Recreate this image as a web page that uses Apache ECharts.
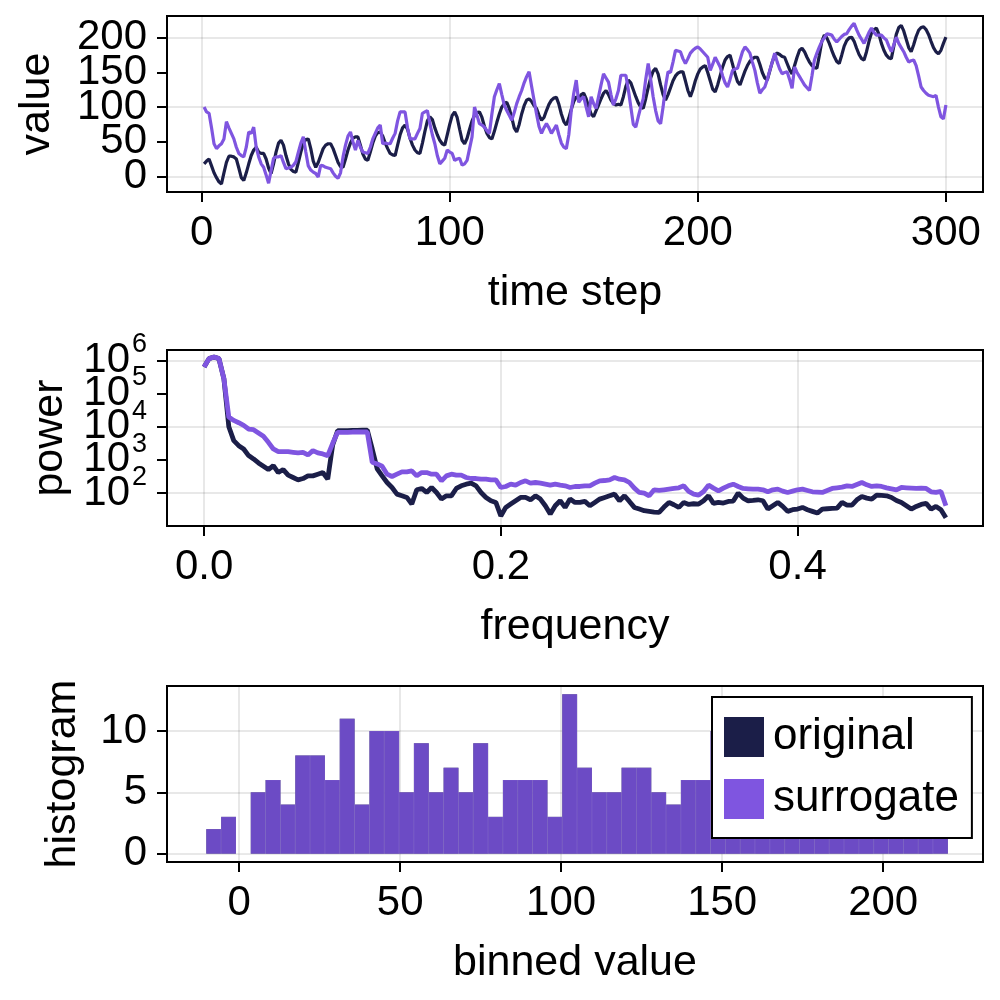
<!DOCTYPE html>
<html>
<head>
<meta charset="utf-8">
<script src="https://cdn.jsdelivr.net/npm/echarts@6/dist/echarts.min.js"></script>
<style>html,body{margin:0;padding:0;background:#fff}#c{width:1000px;height:1000px}</style>
</head>
<body>
<div id="c"></div>
<script>
// ---------- data ----------
const seriesNames = ['original', 'surrogate'];
const originalValues = [
18,22,25,15,5,-2,-8,-11,5,20,
29,29,28,25,12,-2,-6,5,18,30,
38,42,35,33,33,25,12,4,18,35,
48,52,45,30,18,10,7,6,20,35,
48,53,54,40,22,13,20,30,40,45,
47,47,40,30,20,14,13,25,38,48,
55,57,57,45,32,25,23,35,48,58,
63,64,58,48,40,33,31,30,45,60,
70,74,68,55,45,38,34,33,48,65,
80,86,82,70,60,52,47,45,60,75,
88,93,85,68,52,47,55,68,80,88,
92,93,85,72,62,56,54,65,78,90,
100,105,107,98,85,70,64,75,90,102,
110,112,108,102,98,88,81,85,95,104,
110,113,114,104,90,79,74,84,97,108,
115,112,118,120,112,100,90,86,95,103,
112,120,124,118,110,105,103,104,103,115,
130,139,135,125,115,106,100,98,112,128,
142,152,156,148,132,118,110,118,128,138,
145,149,151,151,138,124,115,125,138,148,
155,158,160,150,138,126,122,132,145,158,
168,173,175,162,148,137,132,142,152,160,
166,170,172,172,162,150,142,139,152,165,
175,178,176,173,172,163,154,148,160,172,
182,185,180,172,165,160,157,156,175,195,
204,200,192,182,173,166,163,175,188,196,
200,201,195,185,176,170,168,180,195,207,
212,214,205,192,182,175,171,170,188,205,
215,218,210,198,186,180,190,202,211,215,
216,212,205,195,186,180,177,182,192,201];
const surrogateValues = [
100,93,91,70,47,40,44,47,54,79,
70,62,54,42,33,30,28,42,64,62,
71,42,28,18,13,2,-10,8,26,28,
28,30,20,11,12,13,16,21,35,48,
57,35,15,9,6,4,-1,16,15,13,
12,11,5,0,-3,5,28,45,58,64,
50,38,52,42,35,34,33,42,54,62,
70,74,47,48,47,47,55,62,80,93,
93,93,70,54,54,54,62,69,91,93,
95,76,60,47,30,18,22,26,38,35,
33,23,25,26,16,18,23,40,57,100,
88,76,74,71,66,62,90,115,125,134,
118,103,95,88,81,92,105,115,124,135,
144,151,130,110,90,72,62,70,76,70,
62,68,74,60,48,42,40,60,95,120,
139,107,112,115,100,86,115,105,98,115,
132,148,142,136,118,103,112,124,146,146,
146,125,100,75,71,86,100,112,140,163,
140,115,95,80,76,100,130,151,150,165,
182,181,180,170,163,170,178,182,185,187,
184,180,176,172,153,162,172,165,158,145,
135,129,140,153,155,156,168,180,187,183,
178,165,153,135,120,125,129,140,153,165,
178,165,155,148,150,151,140,127,158,150,
144,138,132,128,124,145,168,178,187,195,
200,206,205,204,198,194,198,202,205,206,
212,217,221,212,204,198,192,200,208,214,
208,204,204,204,200,197,188,180,190,201,
192,186,180,172,165,167,168,160,145,129,
124,120,117,116,115,117,100,86,83,103];

// log10 of spectral power, frequency index k = 0..150 (f = k/300)
const log10PowerOriginal = [
5.80,6.05,6.10,6.05,5.45,4.00,3.58,3.43,3.33,3.13,
3.03,2.91,2.81,2.71,2.83,2.62,2.71,2.54,2.47,2.40,
2.44,2.52,2.52,2.57,2.62,2.42,3.45,3.88,3.88,3.88,
3.89,3.89,3.90,3.90,3.33,2.73,2.52,2.32,2.17,1.97,
1.92,1.87,1.67,2.10,2.14,2.02,2.17,2.02,1.82,1.92,
1.92,2.14,2.22,2.27,2.30,2.22,2.02,1.87,1.77,1.72,
1.31,1.57,1.67,1.77,1.87,1.87,1.80,1.92,1.82,1.62,
1.37,1.62,1.77,1.57,1.82,1.72,1.72,1.75,1.62,1.72,
1.82,1.87,1.92,1.97,1.77,1.92,1.75,1.57,1.52,1.47,
1.45,1.43,1.42,1.58,1.72,1.65,1.57,1.72,1.66,1.68,
1.67,1.77,1.92,1.69,1.72,1.70,1.75,1.76,2.00,1.85,
1.77,1.78,1.80,1.77,1.52,1.62,1.72,1.60,1.45,1.50,
1.52,1.57,1.50,1.45,1.40,1.52,1.53,1.54,1.55,1.72,
1.64,1.64,1.80,1.90,1.85,1.82,1.94,1.93,1.92,1.87,
1.78,1.72,1.62,1.52,1.60,1.66,1.69,1.52,1.60,1.50,
1.26];
const log10PowerSurrogate = [
5.80,6.05,6.10,6.05,5.45,4.29,4.19,4.12,4.04,3.93,
3.91,3.81,3.71,3.53,3.33,3.25,3.25,3.25,3.23,3.21,
3.23,3.15,3.28,3.21,3.18,3.13,3.50,3.83,3.83,3.83,
3.84,3.84,3.84,3.84,2.93,2.88,2.81,2.57,2.50,2.57,
2.64,2.64,2.67,2.52,2.62,2.62,2.57,2.57,2.37,2.52,
2.57,2.54,2.54,2.47,2.44,2.44,2.42,2.42,2.40,2.40,
2.17,2.20,2.27,2.24,2.32,2.37,2.30,2.32,2.30,2.27,
2.24,2.27,2.24,2.22,2.17,2.20,2.20,2.22,2.22,2.30,
2.37,2.38,2.40,2.47,2.42,2.40,2.32,2.15,2.02,2.00,
1.92,2.10,2.08,2.10,2.12,2.14,2.16,2.22,2.05,1.97,
1.94,2.05,2.24,2.15,2.07,2.15,2.22,2.27,2.20,2.14,
2.13,2.12,2.12,2.10,2.04,2.10,2.12,2.06,2.02,2.06,
2.10,2.12,2.08,2.04,2.03,2.02,2.08,2.14,2.16,2.18,
2.22,2.20,2.26,2.32,2.25,2.20,2.22,2.20,2.16,2.13,
2.10,2.17,2.16,2.15,2.14,2.15,2.14,2.04,2.02,2.05,
1.62];

// histogram: 50 bins, edges
const binEdges = [-10.2,-5.59,-0.99,3.62,8.22,12.83,17.44,22.04,26.65,31.25,35.86,
40.47,45.07,49.68,54.28,58.89,63.50,68.10,72.71,77.31,81.92,86.53,91.13,95.74,100.34,
104.95,109.56,114.16,118.77,123.37,127.98,132.59,137.19,141.80,146.40,151.01,155.62,
160.22,164.83,169.43,174.04,178.65,183.25,187.86,192.46,197.07,201.68,206.28,210.89,
215.49,220.10];
const originalCounts = [2,3,0,5,6,4,8,8,6,11,4,10,10,5,9,5,7,5,9,3,6,6,6,3,13,
7,5,5,7,7,5,4,6,6,10,6,5,7,6,5,8,6,4,7,6,5,5,4,6,4];
const surrogateCounts = [2,3,0,5,6,4,8,8,6,11,4,10,10,5,9,5,7,5,9,3,6,6,6,3,13,
7,5,5,7,7,5,4,6,6,10,6,5,7,6,5,8,6,4,7,6,5,5,4,6,4];

const timeTicks = [0, 100, 200, 300];
const valueTicksA = [0, 100, 200];
const valueTicksB = [50, 150];
const freqTicks = [0, 0.2, 0.4];
const powerTicksA = [1e2, 1e4, 1e6];
const powerTicksB = [1e3, 1e5];
const binTicks = [0, 50, 100, 150, 200];
const countTicks = [0, 5, 10];

// ---------- derived ----------
const steps = originalValues.map((_, i) => i + 1);
const freqs = log10PowerOriginal.map((_, k) => k / 300);

const DARK = '#1b1e48';
const PURPLE = '#7f55e0';
const FONT = "'Liberation Sans', Arial, sans-serif";
const FS = 42;
const NFS = 43;

function grid(top) {
  return {left: 167, right: 17, top: top, height: 176, show: true, borderColor: '#000', borderWidth: 2, containLabel: false};
}
const splitLine = {show: true, lineStyle: {color: 'rgba(0,0,0,0.12)', width: 1.5}};
const tickBase = {show: true, inside: false, length: 10, lineStyle: {color: '#000', width: 2}};
const labelBase = {color: '#000', fontSize: FS, fontFamily: FONT, margin: 20,
  showMinLabel: true, showMaxLabel: true, hideOverlap: false};
const nameStyle = {color: '#000', fontSize: NFS, fontFamily: FONT};
const lineOff = {show: false, onZero: false};

function xAxis(idx, min, max, split, ticks, name, fmt) {
  return {
    type: 'value', gridIndex: idx, min: min, max: max, splitNumber: split,
    axisLine: lineOff, splitLine: splitLine,
    axisTick: Object.assign({}, tickBase, {customValues: ticks}),
    axisLabel: Object.assign({}, labelBase, {customValues: ticks, formatter: fmt || (v => String(v))}),
    name: name, nameLocation: 'middle', nameGap: 80, nameTextStyle: nameStyle
  };
}
function yAxis(idx, min, max, split, ticks, name, gap, withSplit) {
  return {
    type: 'value', gridIndex: idx, position: 'left', offset: 0, min: min, max: max, splitNumber: split,
    axisLine: lineOff, splitLine: withSplit ? splitLine : {show: false},
    axisTick: Object.assign({}, tickBase, {customValues: ticks}),
    axisLabel: Object.assign({}, labelBase, {customValues: ticks, formatter: v => String(v)}),
    name: name, nameLocation: 'middle', nameGap: gap, nameTextStyle: nameStyle
  };
}
function logY(ticks, name, withSplit) {
  return {
    type: 'log', logBase: 10, gridIndex: 1, position: 'left', offset: 0,
    min: Math.pow(10, 1.01), max: Math.pow(10, 6.31),
    axisLine: lineOff, splitLine: withSplit ? splitLine : {show: false},
    axisTick: Object.assign({}, tickBase, {customValues: ticks}),
    axisLabel: {
      customValues: ticks, margin: 20, showMinLabel: true, showMaxLabel: true, hideOverlap: false,
      formatter: v => '{b|10}{s|' + Math.round(Math.log10(v)) + '}',
      rich: {
        b: {fontSize: FS, fontFamily: FONT, color: '#000', lineHeight: 28},
        s: {fontSize: 27, fontFamily: FONT, color: '#000', lineHeight: 28, verticalAlign: 'bottom', padding: [0, 0, 16, 2]}
      }
    },
    name: name, nameLocation: 'middle', nameGap: 95, nameTextStyle: nameStyle
  };
}

function histSeries(name, counts, color, opacity) {
  return {
    type: 'custom', name: name, xAxisIndex: 2, yAxisIndex: 2,
    itemStyle: {color: color, opacity: opacity},
    encode: {x: [0, 1], y: 2},
    data: counts.map((c, i) => [binEdges[i], binEdges[i + 1], c]),
    renderItem: function (params, api) {
      const p0 = api.coord([api.value(0), api.value(2)]);
      const p1 = api.coord([api.value(1), 0]);
      return {
        type: 'rect',
        shape: {x: p0[0], y: p0[1], width: p1[0] - p0[0], height: p1[1] - p0[1]},
        style: {fill: color, opacity: opacity, stroke: 'rgba(255,255,255,0.12)', lineWidth: 0.6}
      };
    }
  };
}

const chart = echarts.init(document.getElementById('c'), null, {renderer: 'canvas'});
chart.setOption({
  animation: false,
  backgroundColor: '#fff',
  textStyle: {fontFamily: FONT},
  grid: [grid(16), grid(350), grid(686)],
  xAxis: [
    xAxis(0, -13.95, 314.95, 3, timeTicks, 'time step'),
    xAxis(1, -0.025, 0.525, 3, freqTicks, 'frequency', v => v.toFixed(1)),
    xAxis(2, -22.4, 231, 5, binTicks, 'binned value')
  ],
  yAxis: [
    yAxis(0, -22.7, 231.6, 5, valueTicksA, 'value', 108, true),
    logY(powerTicksA, 'power', true),
    yAxis(2, -0.68, 13.67, 3, countTicks, 'histogram', 82, true),
    yAxis(0, -22.7, 231.6, 5, valueTicksB, '', 108, false),
    logY(powerTicksB, '', false)
  ],
  legend: {
    show: true, orient: 'vertical', left: 712, top: 697,
    icon: 'rect', itemWidth: 40, itemHeight: 40, itemGap: 18,
    padding: [18, 13, 17, 12],
    backgroundColor: '#fff', borderColor: '#000', borderWidth: 2, borderRadius: 0,
    textStyle: {fontSize: 44, fontFamily: FONT, color: '#000', padding: [0, 0, 0, 4]},
    data: [
      {name: seriesNames[0], itemStyle: {color: DARK, opacity: 1}},
      {name: seriesNames[1], itemStyle: {color: PURPLE, opacity: 1}}
    ],
    selectedMode: false
  },
  series: [
    {type: 'line', name: seriesNames[0], xAxisIndex: 0, yAxisIndex: 0, showSymbol: false,
     lineStyle: {color: DARK, width: 3.2}, itemStyle: {color: DARK},
     data: steps.map((t, i) => [t, originalValues[i]])},
    {type: 'line', name: seriesNames[1], xAxisIndex: 0, yAxisIndex: 0, showSymbol: false,
     lineStyle: {color: PURPLE, width: 3.2}, itemStyle: {color: PURPLE},
     data: steps.map((t, i) => [t, surrogateValues[i]])},
    {type: 'line', name: seriesNames[0], xAxisIndex: 1, yAxisIndex: 1, showSymbol: false,
     lineStyle: {color: DARK, width: 4.8}, itemStyle: {color: DARK},
     data: freqs.map((f, k) => [f, Math.pow(10, log10PowerOriginal[k])])},
    {type: 'line', name: seriesNames[1], xAxisIndex: 1, yAxisIndex: 1, showSymbol: false,
     lineStyle: {color: PURPLE, width: 4.8}, itemStyle: {color: PURPLE},
     data: freqs.map((f, k) => [f, Math.pow(10, log10PowerSurrogate[k])])},
    histSeries(seriesNames[0], originalCounts, DARK, 1),
    histSeries(seriesNames[1], surrogateCounts, PURPLE, 0.82)
  ]
});
</script>
</body>
</html>
